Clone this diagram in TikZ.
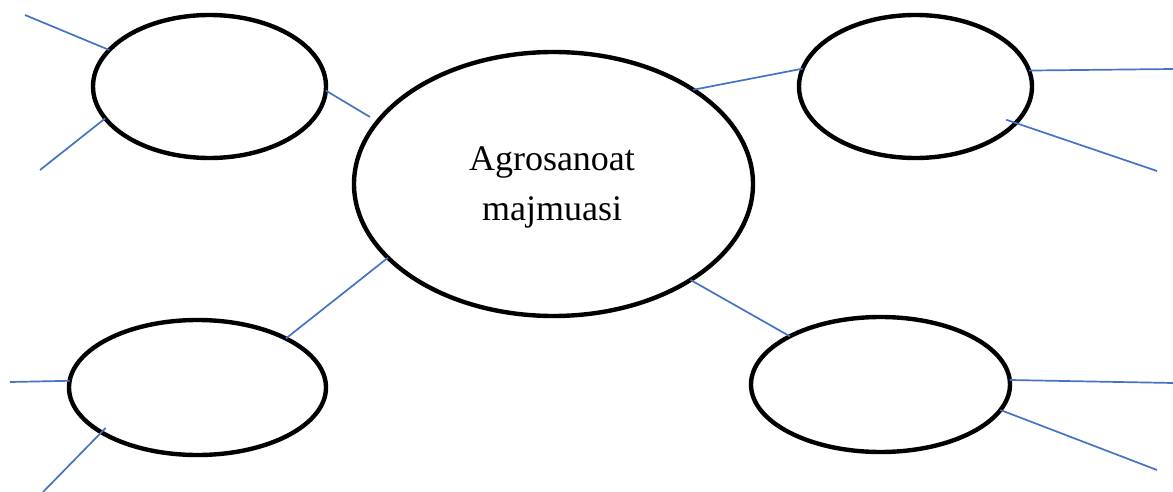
\documentclass[tikz,border=0pt]{standalone}
\usepackage{fontspec}
\setmainfont{Liberation Serif}
\usetikzlibrary{shapes.geometric}
\definecolor{linkblue}{RGB}{68,114,196}
\tikzset{
  oval/.style={ellipse, draw=black, line width=4.4pt, inner sep=0pt, outer sep=0pt, fill=white},
  link/.style={draw=linkblue, line width=1.7pt},
  maintext/.style={align=center, font=\fontsize{36}{50}\selectfont, inner sep=0pt}
}
\begin{document}
\begin{tikzpicture}[x=1pt,y=-1pt]
\useasboundingbox (0,0) rectangle (1173,492);
% ellipses
\node[oval, minimum width=399pt, minimum height=264pt] (c) at (553.5,184) {};
\node[oval, minimum width=233pt, minimum height=143pt] (tl) at (209.5,86.5) {};
\node[oval, minimum width=233pt, minimum height=143pt] (tr) at (915.5,86.5) {};
\node[oval, minimum width=257pt, minimum height=135pt] (bl) at (197.5,387.5) {};
\node[oval, minimum width=259pt, minimum height=135pt] (br) at (880.5,384.5) {};
\node[maintext] (ctext) at (552,187) {Agrosanoat\\majmuasi};
% free ends
\coordinate (tla) at (25,15);
\coordinate (tlb) at (40,170);
\coordinate (tlc) at (370,117);
\coordinate (tra) at (1173,69);
\coordinate (trb) at (1157,171);
\coordinate (bla) at (10,382);
\coordinate (blb) at (43,492);
\coordinate (bra) at (1173,383);
\coordinate (brb) at (1157,470);
% connectors
\draw[link] (tl.160.2) -- (tla);
\draw[link] (tl.197.8) -- (tlb);
\draw[link] (tl.358.8) -- (tlc);
\draw[link] (c.34) -- (tr.171.5);
\draw[link] (tr.8.8) -- (tra);
\draw[link, shorten <=-10pt] (tr.340.3) -- (trb);
\draw[link] (c.204.4) -- (bl.29.4);
\draw[link] (bl.177.6) -- (bla);
\draw[link, shorten <=-6pt] (bl.205.4) -- (blb);
\draw[link] (c.325.9) -- (br.152.6);
\draw[link] (br.2.5) -- (bra);
\draw[link] (br.348.95) -- (brb);
\end{tikzpicture}
\end{document}
